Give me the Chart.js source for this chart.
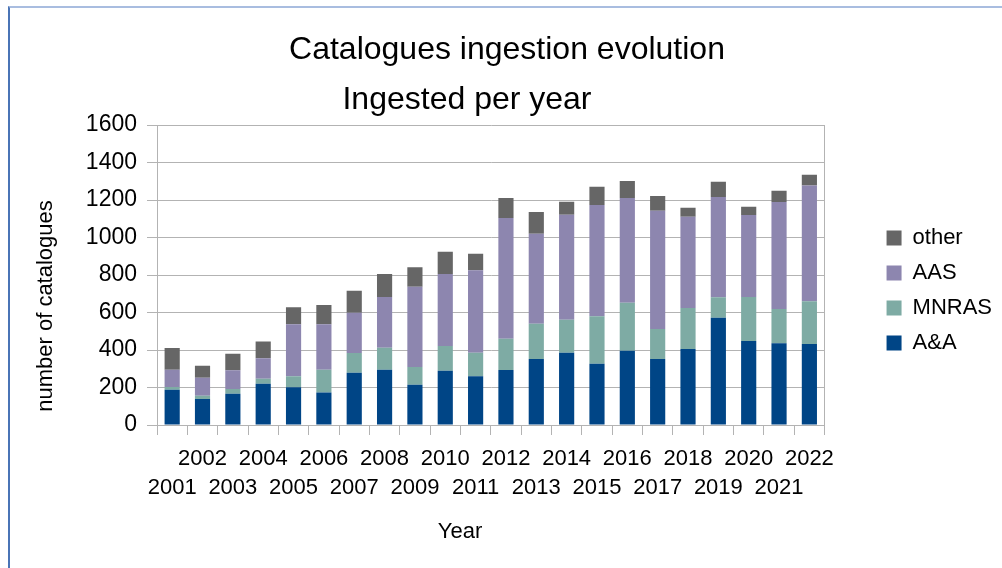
<!DOCTYPE html>
<html>
<head>
<meta charset="utf-8">
<script src="https://cdn.jsdelivr.net/npm/chart.js@4/dist/chart.umd.min.js"></script>
<style>
  html, body { margin: 0; padding: 0; background: #ffffff; }
  #wrap { position: relative; width: 1002px; height: 568px; overflow: hidden; }
  #frame { position: absolute; left: 8px; top: 6px; right: -2px; bottom: -2px;
           border-top: 2px solid #a9bde0; border-left: 2px solid #4a74b6; pointer-events: none; }
  canvas { position: absolute; left: 0; top: 0; }
</style>
</head>
<body>
<div id="wrap">
  <canvas id="chart" width="1002" height="568"></canvas>
  <div id="frame"></div>
</div>
<script>
// Catalogues ingested per year, split by journal
const years = [2001, 2002, 2003, 2004, 2005, 2006, 2007, 2008, 2009, 2010, 2011,
               2012, 2013, 2014, 2015, 2016, 2017, 2018, 2019, 2020, 2021, 2022];
const aa    = [188, 139, 167, 220, 201, 174, 279, 295, 215, 290, 260,
               293, 352, 386, 327, 396, 352, 405, 572, 448, 436, 432];
const mnras = [15, 17, 25, 27, 59, 121, 105, 117, 94, 131, 126,
               167, 188, 176, 253, 256, 160, 219, 109, 235, 183, 228];
const aas   = [92, 96, 100, 109, 277, 242, 215, 271, 429, 384, 439,
               644, 480, 560, 593, 559, 631, 487, 535, 437, 570, 618];
const other = [116, 64, 88, 90, 91, 103, 117, 122, 103, 119, 89,
               107, 116, 69, 98, 90, 78, 48, 82, 44, 61, 57];
const yTicks = [0, 200, 400, 600, 800, 1000, 1200, 1400, 1600];

const titleText = 'Catalogues ingestion evolution';
const subtitleText = 'Ingested per year';
const yTitleText = 'number of catalogues';
const xTitleText = 'Year';

const FONT = '"Liberation Sans", Arial, sans-serif';
const GRID = '#b3b3b3';

// Year labels alternate between two rows so they all fit
const xLabels = years.map((y, i) => (i % 2 === 0 ? ['', String(y)] : [String(y), '']));

// Titles placed around the plot
const titlesPlugin = {
  id: 'titles',
  afterDraw(chart) {
    const ctx = chart.ctx;
    ctx.save();
    ctx.fillStyle = '#000000';
    ctx.textAlign = 'center';
    ctx.textBaseline = 'alphabetic';
    ctx.font = '32px ' + FONT;
    ctx.fillText(titleText, 507, 59);
    ctx.fillText(subtitleText, 467, 109);
    ctx.font = '22px ' + FONT;
    ctx.fillText(xTitleText, 460, 538);
    ctx.translate(52, 306);
    ctx.rotate(-Math.PI / 2);
    ctx.fillText(yTitleText, 0, 0);
    ctx.restore();
  }
};

const mk = (label, data, color) => ({
  label, data, backgroundColor: color, borderWidth: 0,
  barPercentage: 0.5, categoryPercentage: 1.0
});

new Chart(document.getElementById('chart'), {
  type: 'bar',
  data: {
    labels: xLabels,
    datasets: [
      mk('A&A', aa, '#004586'),
      mk('MNRAS', mnras, '#7eaba4'),
      mk('AAS', aas, '#8d86af'),
      mk('other', other, '#666666')
    ]
  },
  options: {
    responsive: false,
    animation: false,
    layout: { padding: { top: 125, left: 0, right: 0, bottom: 0 } },
    plugins: {
      title: { display: false },
      tooltip: { enabled: false },
      legend: {
        position: 'right',
        align: 'start',
        reverse: true,
        title: { display: true, text: '', font: { size: 10 }, padding: { top: 77, bottom: 0 } },
        labels: {
          boxWidth: 15, boxHeight: 15, padding: 13,
          color: '#000000',
          font: { family: FONT, size: 22 }
        }
      }
    },
    scales: {
      x: {
        stacked: true,
        afterFit: s => { s.height = 143; },
        grid: { display: true, drawOnChartArea: false, drawTicks: true, tickLength: 10, color: GRID, offset: true },
        border: { display: true, color: GRID },
        ticks: {
          autoSkip: false, maxRotation: 0, minRotation: 0, padding: 10,
          color: '#000000', font: { family: FONT, size: 22, lineHeight: 1.3 }
        }
      },
      y: {
        stacked: true,
        min: 0, max: 1600,
        afterFit: s => { s.width = 157; },
        afterBuildTicks: s => { s.ticks = yTicks.map(v => ({ value: v })); },
        grid: { color: GRID, tickLength: 10 },
        border: { display: true, color: GRID },
        ticks: {
          padding: 10, color: '#000000', font: { family: FONT, size: 23 },
          callback: v => String(v)
        }
      },
      frameRight: {
        type: 'linear',
        position: 'right',
        display: true,
        afterFit: s => { s.width = 49; },
        grid: { display: false, drawTicks: false },
        border: { display: true, color: GRID },
        ticks: { display: false }
      }
    }
  },
  plugins: [titlesPlugin]
});
</script>
</body>
</html>
